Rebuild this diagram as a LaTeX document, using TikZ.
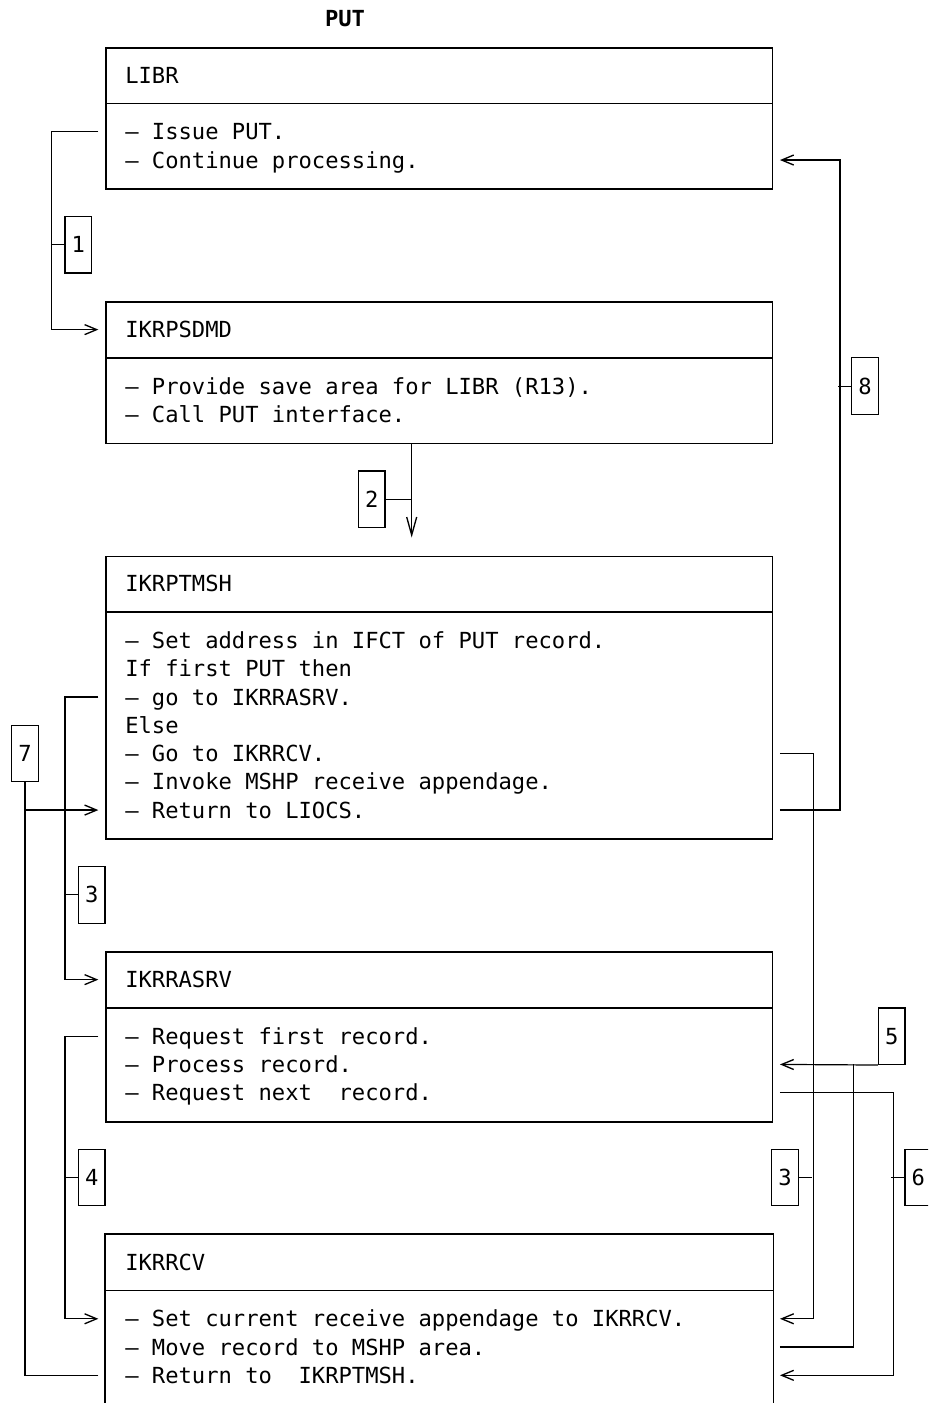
\documentclass[tikz,border=0pt]{standalone}
\usepackage{fontspec}
\newfontfamily\monof{DejaVu Sans Mono}
\usetikzlibrary{arrows.meta,calc}
\begin{document}
\begin{tikzpicture}[x=10pt,y=-21.195pt,
  txt/.style={font=\monof\fontsize{16.61}{21.195}\selectfont, inner sep=0pt, anchor=base west},
  ttl/.style={font=\monof\bfseries\fontsize{16.61}{21.195}\selectfont, inner sep=0pt, anchor=base},
  boxline/.style={line width=1.2pt},
  modbox/.style={draw, boxline, rectangle, minimum width=500pt, inner sep=0pt, anchor=north west},
  numbox/.style={draw, line width=0.9pt, rectangle, minimum width=20pt, minimum height=42.39pt, inner sep=0pt, font=\monof\fontsize{16.61}{21.195}\selectfont},
  conn/.style={line width=0.9pt},
  arr/.style={-{Straight Barb[length=9pt,width=7.5pt,line width=1pt]}},
  varr/.style={-{Straight Barb[length=13.5pt,width=7.5pt,line width=1pt]}}
]
\useasboundingbox (-7.875,-1.663) rectangle (61.725,47.98);
\clip (-7.875,-1.663) rectangle (61.725,47.98);

% title
\node[ttl] (title) at (18,-0.717) {PUT};

% module boxes
\node[modbox, minimum height=105.975pt] (libr) at (0,0) {};
\node[modbox, minimum height=105.975pt] (psd) at (0,9) {};
\node[modbox, minimum height=211.95pt] (tmsh) at (0,18) {};
\node[modbox, minimum height=127.17pt] (ras) at (0,32) {};
\node[modbox, minimum height=127.17pt, draw=none] (rcv) at (0,42) {};
\draw[boxline] (rcv.south west) -- (rcv.north west) -- (rcv.north east) -- (rcv.south east);

% dividers
\foreach \b in {libr,psd,tmsh,ras,rcv}
  \draw[boxline] ($(\b.north west)+(0,2)$) -- ($(\b.north east)+(0,2)$);

% texts
\node[txt] (librh) at ($(libr.north west)+(1.5,1.283)$) {LIBR};
\node[txt] (librb) at ($(libr.north west)+(1.5,3.283)$) {\begin{tabular}[t]{@{}l@{}}– Issue PUT.\\– Continue processing.\end{tabular}};

\node[txt] (psdh) at ($(psd.north west)+(1.5,1.283)$) {IKRPSDMD};
\node[txt] (psdb) at ($(psd.north west)+(1.5,3.283)$) {\begin{tabular}[t]{@{}l@{}}– Provide save area for LIBR (R13).\\– Call PUT interface.\end{tabular}};

\node[txt] (tmshh) at ($(tmsh.north west)+(1.5,1.283)$) {IKRPTMSH};
\node[txt] (tmshb) at ($(tmsh.north west)+(1.5,3.283)$) {\begin{tabular}[t]{@{}l@{}}– Set address in IFCT of PUT record.\\If first PUT then\\– go to IKRRASRV.\\Else\\– Go to IKRRCV.\\– Invoke MSHP receive appendage.\\– Return to LIOCS.\end{tabular}};

\node[txt] (rash) at ($(ras.north west)+(1.5,1.283)$) {IKRRASRV};
\node[txt] (rasb) at ($(ras.north west)+(1.5,3.283)$) {\begin{tabular}[t]{@{}l@{}}– Request first record.\\– Process record.\\– Request next\ \ record.\end{tabular}};

\node[txt] (rcvh) at ($(rcv.north west)+(1.5,1.283)$) {IKRRCV};
\node[txt] (rcvb) at ($(rcv.north west)+(1.5,3.283)$) {\begin{tabular}[t]{@{}l@{}}– Set current receive appendage to IKRRCV.\\– Move record to MSHP area.\\– Return to\ \ IKRPTMSH.\end{tabular}};

% number boxes
\node[numbox] (n1) at (-2,7) {1};
\node[numbox] (n2) at (20,16) {2};
\node[numbox] (n3) at (-1,30) {3};
\node[numbox] (n4) at (-1,40) {4};
\node[numbox] (n5) at (59,35) {5};
\node[numbox] (n6) at (61,40) {6};
\node[numbox] (n7) at (-6,25) {7};
\node[numbox] (n8) at (57,12) {8};
\node[numbox] (n3b) at (51,40) {3};

% connector 1
\draw[conn,arr] ($(libr.north west)+(-0.5,3)$) -| ($(psd.north west)+(-4,1)$) -- ($(psd.north west)+(-0.5,1)$);
\draw[conn] (n1.west) -- ++(-1,0);

% connector 2
\draw[conn,varr] ($(psd.south west)+(23,0)$) -- ($(psd.south west)+(23,3.3)$);
\draw[conn] (n2.east) -- ++(2,0);

% connector 3 (left)
\draw[conn,arr] ($(tmsh.north west)+(-0.5,5)$) -| ($(ras.north west)+(-3,1)$) -- ($(ras.north west)+(-0.5,1)$);
\draw[conn] (n3.west) -- ++(-1,0);

% connector 4
\draw[conn,arr] ($(ras.north west)+(-0.5,3)$) -| ($(rcv.north west)+(-3,3)$) -- ($(rcv.north west)+(-0.5,3)$);
\draw[conn] (n4.west) -- ++(-1,0);

% connector 7
\draw[conn] ($(rcv.north west)+(-0.5,5)$) -| (n7.south);
\draw[conn,arr] ($(tmsh.north west)+(-6,9)$) -- ($(tmsh.north west)+(-0.5,9)$);

% connector 8
\draw[conn,arr] ($(tmsh.north east)+(0.5,9)$) -| ($(libr.north east)+(5,4)$) -- ($(libr.north east)+(0.5,4)$);
\draw[conn] (n8.west) -- ++(-1,0);

% connector 3 (right)
\draw[conn,arr] ($(tmsh.north east)+(0.5,7)$) -| ($(rcv.north east)+(3,3)$) -- ($(rcv.north east)+(0.5,3)$);
\draw[conn] (n3b.east) -- ++(1,0);

% connector 5
\draw[conn] ($(rcv.north east)+(0.5,4)$) -| ($(ras.north east)+(6,4)$);
\draw[conn,arr] (n5.south west) -- ($(ras.north east)+(0.5,4)$);

% connector 6
\draw[conn,arr] ($(ras.north east)+(0.5,5)$) -| ($(rcv.north east)+(9,5)$) -- ($(rcv.north east)+(0.5,5)$);
\draw[conn] (n6.west) -- ++(-1,0);
\end{tikzpicture}
\end{document}
